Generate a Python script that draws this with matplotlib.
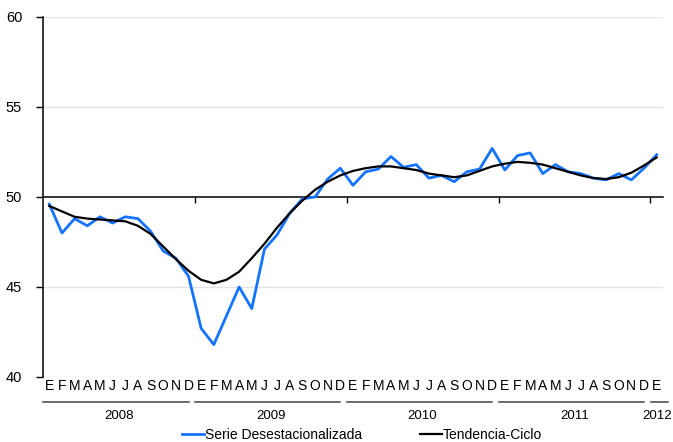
import matplotlib.pyplot as plt
from matplotlib.lines import Line2D

plt.rcParams['font.family'] = ['Liberation Sans', 'DejaVu Sans']

# -------- Data (Jan 2008 - Jan 2012) --------
months = list("EFMAMJJASOND") * 4 + ["E"]
years = ["2008", "2009", "2010", "2011", "2012"]

serie = [
    49.6, 48.0, 48.8, 48.4, 48.9, 48.55, 48.9, 48.8, 48.1, 47.0, 46.6, 45.6,
    42.7, 41.8, 43.4, 45.0, 43.8, 47.1, 47.9, 49.1, 49.9, 50.0, 51.0, 51.6,
    50.65, 51.4, 51.55, 52.25, 51.65, 51.8, 51.05, 51.2, 50.85, 51.4, 51.55, 52.7,
    51.5, 52.3, 52.45, 51.3, 51.8, 51.4, 51.3, 51.05, 50.95, 51.3, 50.95, 51.6,
    52.35,
]

tendencia = [
    49.5, 49.2, 48.9, 48.8, 48.75, 48.7, 48.65, 48.4, 47.95, 47.25, 46.55, 45.9,
    45.4, 45.2, 45.4, 45.85, 46.6, 47.4, 48.3, 49.1, 49.8, 50.4, 50.85, 51.2,
    51.45, 51.6, 51.7, 51.7, 51.6, 51.5, 51.3, 51.2, 51.1, 51.2, 51.45, 51.7,
    51.85, 51.95, 51.9, 51.8, 51.6, 51.4, 51.2, 51.05, 51.0, 51.1, 51.35, 51.75,
    52.2,
]

x = list(range(len(serie)))

# -------- Plot --------
fig = plt.figure(figsize=(6.73, 4.42), dpi=100)
ax = fig.add_axes([43 / 673, 1 - 377 / 442, 620 / 673, 360 / 442])

for v in [40, 45, 55, 60]:
    ax.axhline(v, color="#e3e3e3", lw=1, zorder=0)

ax.plot(x, serie, color="#1473ff", lw=2.0, zorder=3, label="Serie Desestacionalizada")
ax.plot(x, tendencia, color="black", lw=1.6, zorder=4, label="Tendencia-Ciclo")

ax.set_xlim(-0.5, 48.5)
ax.set_ylim(40, 60)
ax.set_yticks([40, 45, 50, 55, 60])
ax.tick_params(axis="y", length=5, width=1, pad=10, labelsize=10.5, colors="black")

ax.spines["top"].set_visible(False)
ax.spines["right"].set_visible(False)
ax.spines["bottom"].set_position(("data", 50))
ax.spines["bottom"].set_linewidth(1.1)
ax.spines["left"].set_linewidth(1.1)
ax.set_xticks([11.5, 23.5, 35.5, 47.5])
ax.set_xticklabels([])
ax.tick_params(axis="x", length=4, width=1, direction="out")

# month letters under the plot
trans = ax.get_xaxis_transform()
for i, m in enumerate(months):
    ax.text(i, -0.025, m, transform=trans, ha="center", va="center",
            fontsize=10, clip_on=False)

# year group lines and labels
starts = [-0.5, 11.5, 23.5, 35.5, 47.5]
ends = [11.0, 23.0, 35.0, 47.0, 48.9]
for k, yr in enumerate(years):
    ax.add_line(Line2D([starts[k] + 0.03, ends[k]], [-0.069, -0.069], transform=trans,
                       color="#444444", lw=1.1, clip_on=False))
    xc = 48 if yr == "2012" else (starts[k] + ends[k] + 0.5) / 2
    ax.text(xc, -0.108, yr, transform=trans, ha="center", va="center",
            fontsize=9.5, clip_on=False)

fig.legend(loc="center", bbox_to_anchor=(0.538, 0.016), ncol=2, frameon=False,
           fontsize=10, handlelength=1.6, handletextpad=0.05, columnspacing=4.2,
           borderaxespad=0)

fig.savefig("out.png", dpi=100)
